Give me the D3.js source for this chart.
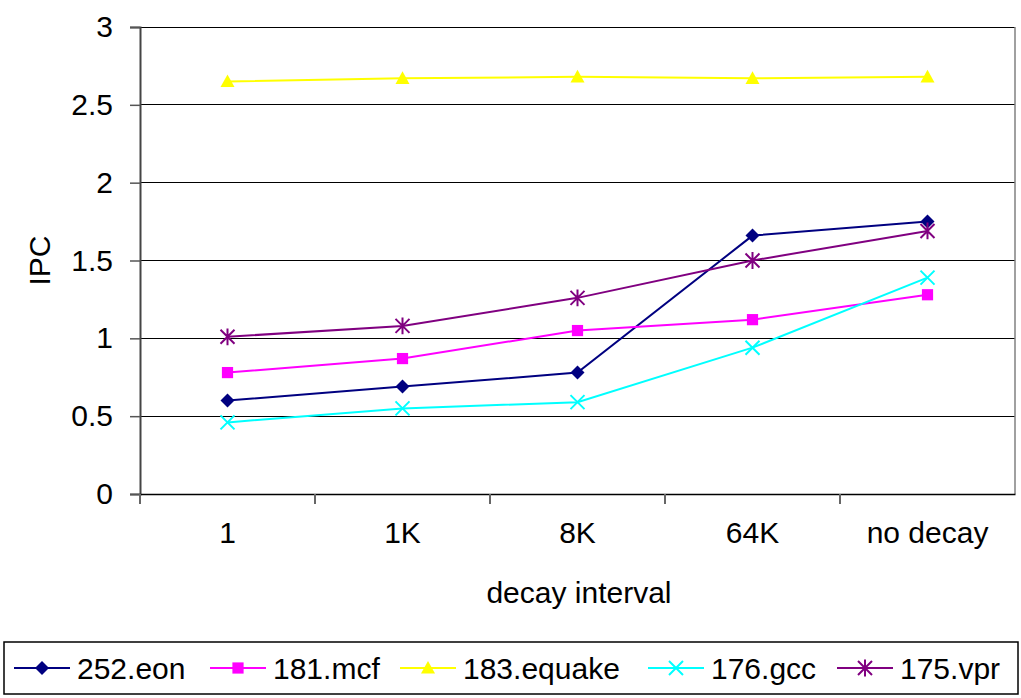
<!DOCTYPE html>
<html>
<head>
<meta charset="utf-8">
<script src="https://cdn.jsdelivr.net/npm/d3@7"></script>
<style>
  body { margin: 0; background: #fff; }
  svg { display: block; font-family: "Liberation Sans", Arial, sans-serif; }
</style>
</head>
<body>
<svg id="chart" width="1021" height="698"></svg>
<script>
const categories = ["1", "1K", "8K", "64K", "no decay"]
const seriesNames = ["252.eon", "181.mcf", "183.equake", "176.gcc", "175.vpr"]
const eon    = [0.60, 0.69, 0.78, 1.66, 1.75]
const mcf    = [0.78, 0.87, 1.05, 1.12, 1.28]
const equake = [2.65, 2.67, 2.68, 2.67, 2.68]
const gcc    = [0.46, 0.55, 0.59, 0.94, 1.39]
const vpr    = [1.01, 1.08, 1.26, 1.50, 1.69]
const yTicks = [0, 0.5, 1, 1.5, 2, 2.5, 3]

const colors = ["#000080", "#ff00ff", "#ffff00", "#00ffff", "#800080"]
const shapes = ["diamond", "square", "triangle", "x", "star"]
const series = [eon, mcf, equake, gcc, vpr]

const svg = d3.select("#chart")
const plotL = 140, plotR = 1015, plotT = 27, plotB = 494
const fs = 30

const x = d3.scaleBand().domain(categories).range([plotL, plotR])
const y = d3.scaleLinear().domain([0, 3]).range([plotB, plotT])

// gridlines
svg.append("g")
  .selectAll("line")
  .data(yTicks)
  .join("line")
  .attr("x1", plotL).attr("x2", plotR)
  .attr("y1", d => y(d)).attr("y2", d => y(d))
  .attr("stroke", "#000").attr("stroke-width", 1)
  .attr("shape-rendering", "crispEdges")

// right border
svg.append("line")
  .attr("x1", plotR).attr("x2", plotR)
  .attr("y1", plotT).attr("y2", plotB)
  .attr("stroke", "#808080").attr("stroke-width", 1.5)

// y axis
const yAxis = svg.append("g")
  .attr("transform", `translate(${plotL},0)`)
  .call(d3.axisLeft(y).tickValues(yTicks).tickFormat(d3.format("")).tickSize(10).tickPadding(17))
yAxis.select(".domain").attr("stroke", "#444").attr("stroke-width", 2)
yAxis.selectAll(".tick line").attr("stroke", "#555").attr("stroke-width", 1.5)
yAxis.selectAll("text").attr("font-size", fs).attr("fill", "#000")
  .attr("font-family", "Liberation Sans, Arial, sans-serif")

// x axis
const xAxis = svg.append("g")
  .attr("transform", `translate(0,${plotB})`)
  .call(d3.axisBottom(x).tickSize(0).tickPadding(28))
xAxis.select(".domain").attr("stroke", "#000").attr("stroke-width", 1.5)
xAxis.selectAll("text").attr("font-size", fs).attr("fill", "#000")
  .attr("font-family", "Liberation Sans, Arial, sans-serif")
// tick marks at category boundaries
svg.append("g")
  .selectAll("line")
  .data(categories)
  .join("line")
  .attr("x1", d => x(d)).attr("x2", d => x(d))
  .attr("y1", plotB).attr("y2", plotB + 10)
  .attr("stroke", "#666").attr("stroke-width", 2)

// axis titles
svg.append("text")
  .attr("x", 579).attr("y", 603)
  .attr("text-anchor", "middle").attr("font-size", fs)
  .text("decay interval")
svg.append("text")
  .attr("transform", `translate(50,${(plotT + plotB) / 2}) rotate(-90)`)
  .attr("text-anchor", "middle").attr("font-size", fs)
  .text("IPC")

function drawMarker(g, shape, color, size) {
  const s = size
  if (shape === "diamond") {
    g.append("path").attr("d", `M0,${-s}L${s},0L0,${s}L${-s},0Z`).attr("fill", color)
  } else if (shape === "square") {
    g.append("rect").attr("x", -s * 0.8).attr("y", -s * 0.8)
      .attr("width", s * 1.6).attr("height", s * 1.6).attr("fill", color)
  } else if (shape === "triangle") {
    g.append("path").attr("d", `M0,${-s}L${s},${s * 0.8}L${-s},${s * 0.8}Z`).attr("fill", color)
  } else if (shape === "x") {
    g.append("path").attr("d", `M${-s},${-s}L${s},${s}M${-s},${s}L${s},${-s}`)
      .attr("stroke", color).attr("stroke-width", 2)
  } else if (shape === "star") {
    g.append("path").attr("d", `M${-s},${-s}L${s},${s}M${-s},${s}L${s},${-s}M0,${-s * 1.2}L0,${s * 1.2}`)
      .attr("stroke", color).attr("stroke-width", 2)
  }
}

const line = d3.line()
  .x((d, i) => x(categories[i]) + x.bandwidth() / 2)
  .y(d => y(d))

series.forEach((vals, k) => {
  const g = svg.append("g")
  g.append("path")
    .attr("d", line(vals))
    .attr("fill", "none")
    .attr("stroke", colors[k])
    .attr("stroke-width", 2)
  vals.forEach((v, i) => {
    const m = g.append("g")
      .attr("transform", `translate(${x(categories[i]) + x.bandwidth() / 2},${y(v)})`)
    drawMarker(m, shapes[k], colors[k], 7)
  })
})

// legend
svg.append("rect")
  .attr("x", 4).attr("y", 642).attr("width", 1014).attr("height", 52)
  .attr("fill", "#fff").attr("stroke", "#000").attr("stroke-width", 1.5)

const legendX = [14, 210, 400, 648, 837]
seriesNames.forEach((name, k) => {
  const g = svg.append("g").attr("transform", `translate(${legendX[k]},668)`)
  g.append("line").attr("x1", 0).attr("x2", 56).attr("y1", 0).attr("y2", 0)
    .attr("stroke", colors[k]).attr("stroke-width", 2)
  const m = g.append("g").attr("transform", "translate(28,0)")
  drawMarker(m, shapes[k], colors[k], 7)
  g.append("text").attr("x", 63).attr("y", 11).attr("font-size", fs).text(name)
})
</script>
</body>
</html>
